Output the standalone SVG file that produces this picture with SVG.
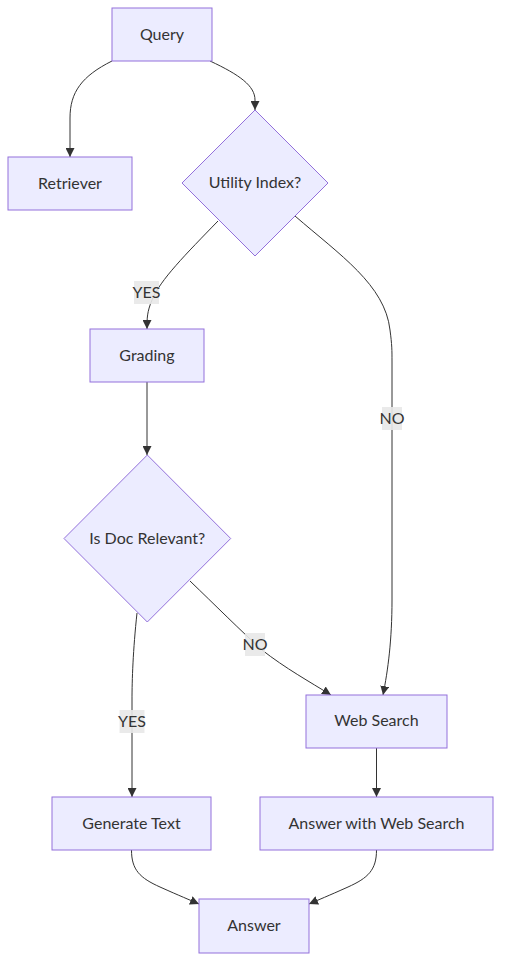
<svg xmlns="http://www.w3.org/2000/svg" width="509" height="976" viewBox="0 0 509 976">
<style>
.node rect,.node polygon{fill:#ECECFF;stroke:#9370DB;stroke-width:1}
text{font-family:Lato,"Liberation Sans",sans-serif;font-size:16px;fill:#333;text-anchor:middle;dominant-baseline:central}
.edge{fill:none;stroke:#333;stroke-width:1;marker-end:url(#arrow)}
.lbl{fill:#e8e8e8;opacity:0.9}
</style>
<defs>
<marker id="arrow" viewBox="0 0 10 10" refX="10" refY="5" markerWidth="9" markerHeight="9" markerUnits="userSpaceOnUse" orient="auto">
<path d="M0,0 L10,5 L0,10 z" fill="#333"/>
</marker>
</defs>
<rect width="509" height="976" fill="#fff"/>
<g id="connectors">
<path class="edge" d="M112,61 C82,76 70,92 70,118 L70,157"/>
<path class="edge" d="M210,61 C240,75 255,86 255,100 L255,110"/>
<path class="edge" d="M218,221 C186,254 160,280 152,300 C147,312 147,318 147,329"/>
<path class="edge" d="M295,216 C340,255 385,285 390,330 C392,345 392,350 392,362 L392,600 C392,640 388,670 383,695"/>
<path class="edge" d="M147,382 L147,455"/>
<path class="edge" d="M137,613 C133,650 132,680 132,700 L132,797"/>
<path class="edge" d="M190,581 C215,605 240,630 262,650 C285,668 310,682 331,695"/>
<path class="edge" d="M376.5,748 L376.5,797"/>
<path class="edge" d="M131.5,850 C131.5,870 140,878 160,887 C180,896 190,900 199,904"/>
<path class="edge" d="M376.5,850 C376.5,870 368,878 348,887 C328,896 318,900 309,904"/>
<g id="edge-labels">
<rect class="lbl" x="134" y="281" width="25" height="23"/><text x="146.5" y="291.5">YES</text>
<rect class="lbl" x="382" y="407" width="20" height="23"/><text x="392" y="417.5">NO</text>
<rect class="lbl" x="245" y="633" width="20" height="23"/><text x="255" y="643.5">NO</text>
<rect class="lbl" x="119.5" y="710" width="25" height="23"/><text x="132" y="720.5">YES</text>
</g>
</g>
<g id="query" class="node"><rect x="112" y="8" width="100" height="53"/><text x="162" y="33">Query</text></g>
<g id="retriever" class="node"><rect x="8" y="157" width="124" height="53"/><text x="70" y="182">Retriever</text></g>
<g id="utility" class="node"><polygon points="255,110 328,183 255,256 182,183"/><text x="255" y="181.5">Utility Index?</text></g>
<g id="grading" class="node"><rect x="90" y="329" width="114" height="53"/><text x="147" y="354">Grading</text></g>
<g id="isdoc" class="node"><polygon points="147.3,455 230.7,538.5 147.3,622 64,538.5"/><text x="147.3" y="537">Is Doc Relevant?</text></g>
<g id="websearch" class="node"><rect x="306" y="695" width="141" height="53"/><text x="376.5" y="719.5">Web Search</text></g>
<g id="generate" class="node"><rect x="52" y="797" width="159" height="53"/><text x="131.5" y="822">Generate Text</text></g>
<g id="answerws" class="node"><rect x="260" y="797" width="233" height="53"/><text x="376.5" y="822">Answer with Web Search</text></g>
<g id="answer" class="node"><rect x="199" y="899" width="110" height="54"/><text x="254" y="924.5">Answer</text></g>
</svg>
